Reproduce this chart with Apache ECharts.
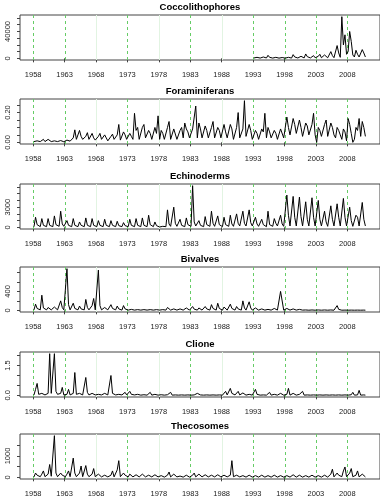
<!DOCTYPE html>
<html><head><meta charset="utf-8">
<script src="https://cdn.jsdelivr.net/npm/echarts@6/dist/echarts.min.js"></script>
<style>html,body{margin:0;padding:0;background:#fff}#c{width:380px;height:500px}</style>
</head><body><div id="c"></div>
<script>
// ---- data (quarterly values, one row per year) ----
const firstYear = 1958, lastYear = 2010;
const tickYears = [1958,1963,1968,1973,1978,1983,1988,1993,1998,2003,2008];
const faintYears = [1968,1978,1988];
const titles = ["Coccolithophores","Foraminiferans","Echinoderms","Bivalves","Clione","Thecosomes"];

const coccoStart = 1993;
const cocco = [
500,2000,1500,800, 400,2500,2000,600, 500,4500,1500,500, 400,2000,1500,500,
300,1500,1200,400, 300,1200,1500,400, 400,5500,2000,600, 500,2500,3000,800,
600,6500,2500,700, 600,3000,4000,900, 800,3000,6000,900, 700,5000,3000,800,
1000,10000,4000,1000, 1200,19000,8000,1500, 62000,20000,35000,6000, 10000,40000,25000,5000,
2000,12000,6000,2000, 1500,13000,8000,2000];

const foram = [
.005,.015,.01,.005, .005,.01,.02,.005, .005,.02,.012,.005, .005,.01,.018,.005, .003,.012,.008,.004,
.005,.015,.02,.008, .01,.03,.084,.02, .01,.08,.04,.02, .01,.04,.065,.02, .01,.06,.03,.015,
.01,.04,.06,.02, .01,.05,.03,.01, .01,.04,.055,.02, .01,.05,.12,.015, .02,.07,.05,.02,
.01,.06,.04,.02, .195,.08,.1,.02, .02,.1,.12,.03, .02,.08,.06,.02, .02,.1,.06,.178,
.02,.08,.06,.02, .02,.1,.14,.02, .03,.09,.1,.02, .02,.08,.1,.03, .13,.09,.07,.03,
.02,.09,.1,.244, .03,.13,.09,.03, .02,.11,.08,.03, .03,.1,.14,.03, .02,.1,.08,.03,
.03,.12,.07,.03, .03,.12,.09,.02, .03,.1,.2,.03, .03,.09,.28,.04, .03,.12,.08,.02,
.02,.08,.06,.02, .02,.09,.07,.195, .03,.1,.07,.03, .02,.08,.06,.02, .03,.09,.08,.03,
.04,.17,.1,.05, .05,.16,.12,.06, .05,.15,.1,.04, .04,.13,.11,.05, .04,.12,.195,.05,
0,.1,.08,.04, .03,.12,.15,.04, .04,.13,.1,.05, .03,.1,.08,.05, .02,.09,.07,.01,
.16,.12,.06,0, .02,.1,.08,.16, .04,.14,.1,.04];

const echino = [
100,1500,400,150, 100,1300,300,150, 100,1300,300,150, 100,1700,400,150, 150,2400,500,150,
100,1000,300,150, 100,1300,300,150, 100,800,300,100, 100,1400,300,150, 100,1300,300,150,
100,1000,300,100, 100,1200,300,150, 100,1000,300,100, 100,900,250,100, 100,700,250,100,
100,1200,300,150, 100,1300,300,150, 100,1400,300,150, 100,1800,400,150, 100,800,250,100,
50,300,150,50, 100,2600,500,150, 150,3000,600,150, 100,1200,300,150, 100,1400,400,150,
150,6200,800,200, 100,1000,300,150, 100,1600,400,150, 150,2400,600,150, 100,1700,400,150,
100,1500,400,150, 150,1800,500,150, 150,2000,600,200, 150,2400,600,200, 150,2600,700,200,
150,1500,500,150, 100,1200,400,150, 100,2400,400,150, 150,1300,600,200, 150,1800,500,150,
200,4800,1800,200, 200,4600,1500,200, 200,4500,1600,200, 200,3800,1200,200, 200,4400,1500,200,
200,4000,1200,200, 150,2400,800,150, 150,3200,1200,200, 200,3500,1500,200, 200,4300,1500,200,
200,3000,1000,150, 150,1800,1500,200, 200,3700,1200,200];

const bival = [
10,130,40,10, 10,320,50,10, 10,60,30,10, 10,70,30,10, 10,200,60,10,
10,880,120,10, 10,150,40,10, 10,90,30,10, 10,230,60,10, 10,100,250,10,
10,850,100,10, 10,60,30,10, 10,120,40,10, 10,90,30,10, 5,100,30,5,
5,40,20,5, 5,30,15,5, 5,40,15,5, 5,30,15,5, 5,40,15,5,
5,30,15,5, 5,60,20,5, 5,30,15,5, 5,30,15,5, 5,50,20,5,
5,80,25,5, 5,50,20,5, 5,80,30,5, 5,120,40,5, 5,150,40,5,
5,70,30,5, 5,130,40,5, 5,80,30,5, 5,200,50,5, 5,180,50,5,
5,50,20,5, 5,30,15,5, 5,20,10,5, 5,40,15,5, 5,400,380,5,
5,40,15,5, 5,30,10,5, 5,20,10,5, 3,8,5,3, 3,8,5,3,
3,8,5,3, 3,8,5,3, 3,8,5,3, 3,100,20,3, 3,8,5,3,
3,8,5,3, 3,8,5,3, 3,8,5,3];

const clione = [
.02,.3,.6,.05, .02,.1,.05,.02, .02,.1,2.1,.1, .05,2.1,.2,.05, .02,.1,.4,.02,
.02,.05,.3,.02, .02,.1,1.15,.05, .02,.1,.05,.02, .02,.9,.15,.02, .02,.1,.05,.02,
.02,.05,.03,.02, .02,.1,.05,.02, .02,1.0,.1,.02, .02,.1,.05,.02, .02,.05,.15,.02,
.02,.2,.05,.02, .02,.1,.05,.02, .01,.05,.03,.01, .01,.05,.15,.01, .01,.05,.02,.01,
.01,.03,.02,.01, .01,.03,.02,.15, .01,.05,.02,.01, .01,.03,.02,.12, .01,.05,.02,.01,
.01,.03,.02,.01, .1,.05,.02,.01, .01,.05,.02,.01, .01,.05,.02,.01, .01,.05,.02,.01,
.01,.05,.2,.02, .02,.35,.1,.02, .02,.05,.2,.02, .01,.12,.05,.01, .01,.05,.03,.01,
.01,.3,.05,.01, .01,.05,.02,.01, .01,.03,.15,.01, .01,.05,.02,.01, .01,.1,.03,.01,
.01,.05,.35,.01, .01,.1,.05,.01, .01,.05,.02,.2, .01,.05,.02,.01, .01,.03,.02,.01,
.01,.03,.02,.01, .01,.04,.02,.01, .01,.04,.02,.01, .01,.03,.02,.01, .01,.05,.02,.01,
.01,.05,.03,.15, .01,.05,.02,.25, .01,.05,.02,.01];

const theco = [
20,200,100,20, 30,150,300,30, 30,150,600,50, 50,1950,200,30, 30,200,100,20,
30,150,300,30, 30,900,200,30, 30,200,530,30, 30,550,150,30, 30,150,410,30,
20,150,100,20, 20,100,80,20, 20,100,300,20, 30,350,780,30, 20,200,100,20,
20,150,100,20, 20,120,80,20, 20,150,80,20, 20,100,150,20, 20,120,80,20,
10,80,50,10, 20,100,250,20, 20,150,80,20, 10,60,40,10, 10,100,50,10,
20,100,200,20, 20,150,80,20, 20,120,100,20, 20,100,80,20, 20,120,80,20,
20,100,60,20, 20,100,780,30, 20,100,60,20, 10,80,50,10, 10,100,50,10,
10,80,50,10, 10,100,50,10, 10,80,50,10, 10,100,50,10, 10,80,50,10,
10,80,50,10, 10,120,60,10, 10,100,60,10, 10,80,60,10, 10,100,60,10,
10,80,50,10, 10,100,60,10, 20,150,380,20, 20,200,100,20, 30,300,485,30,
30,200,410,30, 20,100,300,20, 20,150,100,20];

// y-axis ticks and labels per panel
const yMaxes = [62000, 0.28, 6200, 880, 2.1, 1950];
const yTicks = [[0,10000,20000,30000,40000,50000,60000],[0,.05,.1,.15,.2,.25],[0,1000,2000,3000,4000,5000,6000],[0,200,400,600,800],[0,.5,1,1.5,2],[0,500,1000,1500]];
const yLabels = [[0,40000],[0,.2],[0,3000],[0,400],[0,1.5],[0,1000]];
const yDecimals = [0,2,0,0,1,0];

// ---- build ----
function toPairs(vals, startYear){
  const out=[];
  for(let i=0;i<vals.length;i++){
    const y = startYear + Math.floor(i/4), q = i%4;
    out.push([y + 0.125 + 0.25*q, vals[i]]);
  }
  return out;
}
const seriesVals = [toPairs(cocco, coccoStart), toPairs(foram, firstYear), toPairs(echino, firstYear), toPairs(bival, firstYear), toPairs(clione, firstYear), toPairs(theco, firstYear)];

const tops = [15, 99, 184, 267, 352, 434];
const H = 45;
const font = 'Liberation Sans, Arial, sans-serif';
const grids=[], xAxes=[], yAxes=[], series=[], graphics=[];
function vlineRender(params, api){
  const yr = api.value(0);
  const p = api.coord([yr, 0]);
  const cs = params.coordSys;
  const x = Math.round(p[0]) + 0.5;
  const faint = faintYears.indexOf(yr) >= 0;
  return {type:'line', shape:{x1:x, y1:cs.y, x2:x, y2:cs.y+cs.height},
    style: faint ? {stroke:'#e2f4e2', lineWidth:1} : {stroke:'#66cc66', lineWidth:1, lineDash:[3,3]}};
}
for(let i=0;i<6;i++){
  grids.push({left:20, right:0, top:tops[i], height:H, show:true, borderColor:'#444', borderWidth:1, backgroundColor:'transparent'});
  xAxes.push({gridIndex:i, type:'value', min:1955.9, max:2013.2,
    axisLine:{show:false}, splitLine:{show:false},
    axisTick:{show:true, customValues:tickYears, length:4, lineStyle:{color:'#444'}},
    axisLabel:{customValues:tickYears, fontSize:7.5, color:'#222', margin:11, fontFamily:font, formatter:v=>String(Math.round(v))}});
  const M = yMaxes[i];
  yAxes.push({gridIndex:i, type:'value', min:-0.04*M, max:1.04*M,
    axisLine:{show:false}, splitLine:{show:false},
    axisTick:{show:true, customValues:yTicks[i], length:3, lineStyle:{color:'#444'}},
    axisLabel:{customValues:yLabels[i], rotate:90, fontSize:7.5, color:'#222', margin:8, fontFamily:font,
      formatter:v=>Number(v).toFixed(yDecimals[i])}});
  series.push({type:'custom', xAxisIndex:i, yAxisIndex:i, data:tickYears.map(y=>[y]), renderItem:vlineRender,
    silent:true, animation:false, z:1, clip:false});
  series.push({type:'line', xAxisIndex:i, yAxisIndex:i, data:seriesVals[i], showSymbol:false, symbol:'none',
    lineStyle:{color:'#000', width:1}, animation:false, silent:true, z:3});
  graphics.push({type:'text', x:200, y:tops[i]-8, style:{text:titles[i], textAlign:'center', textVerticalAlign:'middle', font:'bold 9.5px '+font, fill:'#000'}});
}
const chart = echarts.init(document.getElementById('c'));
chart.setOption({animation:false, grid:grids, xAxis:xAxes, yAxis:yAxes, series:series, graphic:graphics});
</script></body></html>
